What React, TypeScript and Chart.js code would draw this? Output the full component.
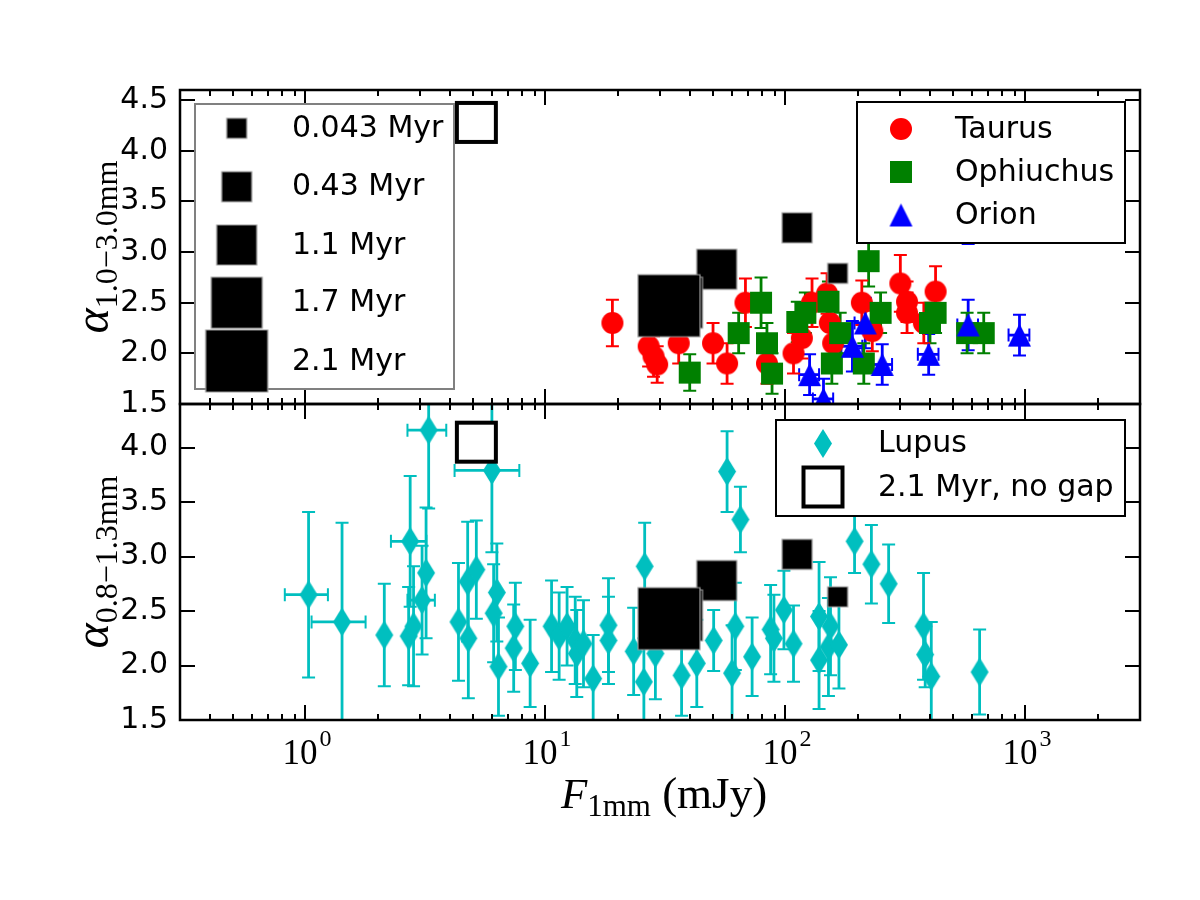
import React, { useEffect, useRef } from 'react';
import { Chart, registerables } from 'chart.js';

Chart.register(...registerables);

// ---- Taurus (top panel) ----
const taurusFlux = [19.0, 26.9, 28.2, 29.2, 35.9, 49.9, 57.1, 68.1, 83.7, 108, 117, 129, 149, 153, 158, 208, 230, 301, 321, 321, 377, 422];
const taurusAlpha = [2.30, 2.07, 1.97, 1.89, 2.10, 2.10, 1.90, 2.50, 1.90, 2.00, 2.15, 2.50, 2.59, 2.30, 2.10, 2.50, 2.22, 2.69, 2.51, 2.40, 2.30, 2.61];
const taurusAlphaErr = [0.23, 0.2, 0.2, 0.18, 0.2, 0.2, 0.2, 0.24, 0.2, 0.2, 0.2, 0.24, 0.2, 0.2, 0.2, 0.22, 0.2, 0.28, 0.2, 0.2, 0.2, 0.25];

// ---- Ophiuchus (top panel) ----
const ophFlux = [39.9, 63.8, 79.1, 83.7, 87.9, 112, 121, 151, 156, 169, 212, 222, 249, 400, 422, 571, 670];
const ophAlpha = [1.81, 2.20, 2.50, 2.10, 1.80, 2.31, 2.40, 2.51, 1.90, 2.20, 1.90, 2.91, 2.40, 2.30, 2.40, 2.20, 2.20];
const ophAlphaErr = [0.18, 0.2, 0.25, 0.2, 0.2, 0.2, 0.2, 0.2, 0.2, 0.2, 0.2, 0.25, 0.2, 0.2, 0.2, 0.2, 0.2];

// ---- Orion (top panel) ----
const orionFlux = [126, 144, 190, 215, 253, 395, 577, 577, 944];
const orionAlpha = [1.79, 1.55, 2.07, 2.30, 1.89, 1.99, 2.28, 3.38, 2.18];
const orionAlphaErr = [0.2, 0.2, 0.25, 0.25, 0.2, 0.2, 0.25, 0.30, 0.2];
const orionFluxErr = [12, 14, 19, 21, 25, 39, 57, 57, 94];

// ---- Lupus (bottom panel) ----
const lupusFlux = [1.03, 1.42, 2.13, 2.73, 2.69, 2.82, 3.06, 3.18, 3.26, 4.34, 4.74, 4.77, 5.15, 5.98, 6.27, 6.08, 6.37, 7.49, 7.37, 8.63, 10.6, 11.4, 12.3, 13.3, 13.5, 14.4, 15.8, 18.3, 18.3, 23.3, 25.9, 25.7, 28.7, 36.9, 42.7, 50.2, 57.1, 59.9, 61.8, 64.9, 72.6, 86.7, 89.5, 98.5, 108, 138, 138, 151, 154, 167, 194, 228, 269, 376, 382, 405, 644];
const lupusAlpha = [2.65, 2.40, 2.28, 3.14, 2.27, 2.36, 2.60, 2.85, 4.16, 2.40, 2.77, 2.25, 2.88, 3.79, 2.67, 2.48, 1.99, 2.36, 2.16, 2.02, 2.36, 2.27, 2.36, 2.23, 2.11, 2.20, 1.88, 2.37, 2.23, 2.13, 2.91, 1.85, 2.11, 1.91, 2.02, 2.23, 3.78, 1.93, 2.36, 3.34, 2.08, 2.33, 2.25, 2.51, 2.20, 2.45, 2.05, 2.17, 2.36, 2.19, 3.14, 2.93, 2.75, 2.36, 2.10, 1.90, 1.94];
const lupusAlphaErr = [0.76, 0.91, 0.47, 0.6, 0.45, 0.55, 0.5, 0.6, 0.72, 0.54, 0.55, 0.55, 0.45, 0.75, 0.45, 0.45, 0.45, 0.4, 0.4, 0.4, 0.42, 0.4, 0.36, 0.4, 0.4, 0.4, 0.4, 0.43, 0.4, 0.4, 0.4, 0.4, 0.42, 0.37, 0.4, 0.28, 0.37, 0.44, 0.4, 0.3, 0.36, 0.41, 0.4, 0.36, 0.35, 0.5, 0.45, 0.45, 0.45, 0.4, 0.29, 0.36, 0.36, 0.49, 0.3, 0.5, 0.39];
const lupusFluxErr = [0.21, 0.36, 0, 0.46, 0, 0, 0.4, 0, 0.6, 0, 0, 0, 0, 1.8, 0, 0, 0, 0, 0, 0, 0, 0, 0, 0, 0, 0, 0, 0, 0, 0, 0, 0, 0, 0, 0, 0, 0, 0, 0, 0, 0, 0, 0, 0, 0, 0, 0, 0, 0, 0, 0, 0, 0, 0, 0, 0, 0];

// ---- Disc models with a gap: age labels and positions in both panels ----
const modelAges = ['0.043 Myr', '0.43 Myr', '1.1 Myr', '1.7 Myr', '2.1 Myr'];
const modelFlux = [165, 111.8, 51.7, 35.3, 32.7];
const modelAlphaTop = [2.79, 3.24, 2.83, 2.50, 2.47];
const modelAlphaBottom = [2.63, 3.02, 2.78, 2.46, 2.43];

// ---- Model without a gap ----
const noGapLabel = '2.1 Myr, no gap';
const noGapFlux = [5.15];
const noGapAlphaTop = [4.28];
const noGapAlphaBottom = [4.05];

// ---- axes ----
const xRange = [0.3, 3000];
const topRange = [1.5, 4.6];
const bottomRange = [1.5, 4.4];
const topTicks = [1.5, 2.0, 2.5, 3.0, 3.5, 4.0, 4.5];
const bottomTicks = [1.5, 2.0, 2.5, 3.0, 3.5, 4.0];
const xMajorTicks = [1, 10, 100, 1000];
const xTickExponents = ['0', '1', '2', '3'];

// marker pixel sizes for the model squares (smallest age first)
const MODEL_SIZES = [20, 30, 40, 51, 62];

const RED = '#ff0000';
const GREEN = '#008000';
const BLUE = '#0000ff';
const CYAN = '#00bfbf';

type Shape = 'circle' | 'square' | 'triangle' | 'diamond';

function marker(shape: Shape, w: number, h: number, fill: string | null, stroke: string | null, lw: number) {
  const pad = Math.ceil(lw / 2) + 1;
  const c = document.createElement('canvas');
  c.width = Math.round(w + 2 * pad);
  c.height = Math.round(h + 2 * pad);
  const g = c.getContext('2d')!;
  const cx = c.width / 2;
  const cy = c.height / 2;
  g.beginPath();
  if (shape === 'circle') g.ellipse(cx, cy, w / 2, h / 2, 0, 0, Math.PI * 2);
  else if (shape === 'square') g.rect(cx - w / 2, cy - h / 2, w, h);
  else if (shape === 'triangle') {
    g.moveTo(cx, cy - h / 2);
    g.lineTo(cx + w / 2, cy + h / 2);
    g.lineTo(cx - w / 2, cy + h / 2);
    g.closePath();
  } else {
    g.moveTo(cx, cy - h / 2);
    g.lineTo(cx + w / 2, cy);
    g.lineTo(cx, cy + h / 2);
    g.lineTo(cx - w / 2, cy);
    g.closePath();
  }
  if (fill) {
    g.fillStyle = fill;
    g.fill();
  }
  if (stroke && lw > 0) {
    g.lineWidth = lw;
    g.strokeStyle = stroke;
    g.stroke();
  }
  return c;
}

function pts(xs: number[], ys: number[]) {
  return xs.map((x, i) => ({ x, y: ys[i] }));
}

type Piece = { t: string; font: string; dy?: number };

function drawPieces(ctx: CanvasRenderingContext2D, pieces: Piece[], x: number, y: number, align: 'center' | 'left') {
  ctx.textBaseline = 'alphabetic';
  ctx.textAlign = 'left';
  let total = 0;
  const widths = pieces.map((p) => {
    ctx.font = p.font;
    const w = ctx.measureText(p.t).width;
    total += w;
    return w;
  });
  let cx = align === 'center' ? x - total / 2 : x;
  pieces.forEach((p, i) => {
    ctx.font = p.font;
    ctx.fillText(p.t, cx, y + (p.dy || 0));
    cx += widths[i];
  });
}

const SANS = '"DejaVu Sans", sans-serif';
const SERIF = '"Liberation Serif", "DejaVu Serif", serif';
const TICK_FONT = 30;

export default function App() {
  const ref = useRef<HTMLCanvasElement | null>(null);

  useEffect(() => {
    const canvas = ref.current!;
    const circle = marker('circle', 22, 22, RED, null, 0);
    const square = marker('square', 22, 22, GREEN, null, 0);
    const triangle = marker('triangle', 23, 23, BLUE, null, 0);
    const diamond = marker('diamond', 18, 29, CYAN, null, 0);
    const modelMarks = MODEL_SIZES.map((s) => marker('square', s, s, '#000', '#9a9a9a', 1.2));
    const openSquare = marker('square', 39, 39, '#fff', '#000', 4);

    const errorBars = {
      id: 'errorBars',
      beforeDatasetsDraw(chart: any) {
        const ctx: CanvasRenderingContext2D = chart.ctx;
        chart.data.datasets.forEach((ds: any) => {
          if (!ds.yErr && !ds.xErr) return;
          const xs = chart.scales[ds.xAxisID];
          const ys = chart.scales[ds.yAxisID];
          ctx.save();
          ctx.beginPath();
          ctx.rect(xs.left, ys.top, xs.right - xs.left, ys.bottom - ys.top);
          ctx.clip();
          ctx.strokeStyle = ds.errColor;
          ds.data.forEach((p: any, j: number) => {
            const px = xs.getPixelForValue(p.x);
            const py = ys.getPixelForValue(p.y);
            const ey = ds.yErr ? ds.yErr[j] : 0;
            const ex = ds.xErr ? ds.xErr[j] : 0;
            const cap = 6.5;
            if (ey) {
              const y0 = ys.getPixelForValue(p.y - ey);
              const y1 = ys.getPixelForValue(p.y + ey);
              ctx.lineWidth = 2.8;
              ctx.beginPath();
              ctx.moveTo(px, y0);
              ctx.lineTo(px, y1);
              ctx.stroke();
              ctx.lineWidth = 2;
              ctx.beginPath();
              ctx.moveTo(px - cap, y0);
              ctx.lineTo(px + cap, y0);
              ctx.moveTo(px - cap, y1);
              ctx.lineTo(px + cap, y1);
              ctx.stroke();
            }
            if (ex) {
              const x0 = xs.getPixelForValue(p.x - ex);
              const x1 = xs.getPixelForValue(p.x + ex);
              ctx.lineWidth = 2.8;
              ctx.beginPath();
              ctx.moveTo(x0, py);
              ctx.lineTo(x1, py);
              ctx.stroke();
              ctx.lineWidth = 2;
              ctx.beginPath();
              ctx.moveTo(x0, py - cap);
              ctx.lineTo(x0, py + cap);
              ctx.moveTo(x1, py - cap);
              ctx.lineTo(x1, py + cap);
              ctx.stroke();
            }
          });
          ctx.restore();
        });
      },
    };

    const frame = {
      id: 'frame',
      afterDatasetsDraw(chart: any) {
        const ctx: CanvasRenderingContext2D = chart.ctx;
        const xs = chart.scales.x;
        const panels = [chart.scales.yTop, chart.scales.yBottom];
        const ticksY = [topTicks, bottomTicks];
        ctx.save();
        ctx.strokeStyle = '#000';
        // minor and major x ticks on top and bottom of each panel
        const minor: number[] = [];
        for (let d = -1; d <= 3; d++) {
          for (let m = 2; m <= 9; m++) {
            const v = m * Math.pow(10, d);
            if (v > xRange[0] && v < xRange[1]) minor.push(v);
          }
        }
        panels.forEach((ys: any, k: number) => {
          ctx.lineWidth = 2;
          ctx.beginPath();
          xMajorTicks.forEach((v) => {
            const px = Math.round(xs.getPixelForValue(v));
            ctx.moveTo(px, ys.top);
            ctx.lineTo(px, ys.top + 15);
            ctx.moveTo(px, ys.bottom);
            ctx.lineTo(px, ys.bottom - 15);
          });
          minor.forEach((v) => {
            const px = Math.round(xs.getPixelForValue(v));
            ctx.moveTo(px, ys.top);
            ctx.lineTo(px, ys.top + 6);
            ctx.moveTo(px, ys.bottom);
            ctx.lineTo(px, ys.bottom - 6);
          });
          ticksY[k].forEach((v) => {
            const py = Math.round(ys.getPixelForValue(v));
            ctx.moveTo(xs.left, py);
            ctx.lineTo(xs.left + 15, py);
            ctx.moveTo(xs.right, py);
            ctx.lineTo(xs.right - 15, py);
          });
          ctx.stroke();
          ctx.lineWidth = 2.5;
          ctx.strokeRect(xs.left, ys.top, xs.right - xs.left, ys.bottom - ys.top);
        });

        // x tick labels: powers of ten
        ctx.fillStyle = '#000';
        xMajorTicks.forEach((v, i) => {
          const px = xs.getPixelForValue(v);
          ctx.font = `35px ${SERIF}`;
          ctx.textAlign = 'right';
          ctx.textBaseline = 'alphabetic';
          ctx.fillText('10', px + 12, 764);
          ctx.font = `24px ${SERIF}`;
          ctx.textAlign = 'left';
          ctx.fillText(xTickExponents[i], px + 14, 746);
        });

        // axis titles
        const xMid = (xs.left + xs.right) / 2;
        drawPieces(ctx, [
          { t: 'F', font: `italic 43px ${SERIF}` },
          { t: '1mm', font: `31px ${SERIF}`, dy: 8 },
          { t: ' (mJy)', font: `45px ${SERIF}` },
        ], xMid + 4, 808, 'center');

        const titles = [
          { sub: '1.0\u22123.0mm', ys: panels[0] },
          { sub: '0.8\u22121.3mm', ys: panels[1] },
        ];
        titles.forEach(({ sub, ys }) => {
          ctx.save();
          ctx.translate(108, (ys.top + ys.bottom) / 2);
          ctx.rotate(-Math.PI / 2);
          drawPieces(ctx, [
            { t: '\u03b1', font: `italic 48px ${SERIF}` },
            { t: sub, font: `32px ${SERIF}`, dy: 9 },
          ], 0, 0, 'center');
          ctx.restore();
        });

        // legend: model ages
        ctx.fillStyle = '#fff';
        ctx.fillRect(195, 104, 259, 285);
        ctx.strokeStyle = '#808080';
        ctx.lineWidth = 2;
        ctx.strokeRect(195, 104, 259, 285);
        const rows = [128.3, 186.7, 245, 302.7, 361];
        ctx.font = `30px ${SANS}`;
        ctx.textAlign = 'left';
        ctx.textBaseline = 'middle';
        modelAges.forEach((lab, i) => {
          const m = modelMarks[i];
          ctx.drawImage(m, 236.7 - m.width / 2, rows[i] - m.height / 2);
          ctx.fillStyle = '#000';
          ctx.fillText(lab, 292, rows[i] + 1);
        });

        // legend: star-forming regions
        ctx.fillStyle = '#fff';
        ctx.fillRect(857, 102, 268, 141);
        ctx.strokeStyle = '#000';
        ctx.lineWidth = 2;
        ctx.strokeRect(857, 102, 268, 141);
        const reg = [
          { m: circle, t: 'Taurus', y: 129 },
          { m: square, t: 'Ophiuchus', y: 172 },
          { m: triangle, t: 'Orion', y: 215 },
        ];
        reg.forEach((r) => {
          ctx.drawImage(r.m, 901 - r.m.width / 2, r.y - r.m.height / 2);
          ctx.fillStyle = '#000';
          ctx.fillText(r.t, 955, r.y + 1);
        });

        // legend: Lupus and the model without a gap
        ctx.fillStyle = '#fff';
        ctx.fillRect(776, 420, 349, 96);
        ctx.strokeStyle = '#000';
        ctx.strokeRect(776, 420, 349, 96);
        ctx.drawImage(diamond, 823 - diamond.width / 2, 443.5 - diamond.height / 2);
        ctx.drawImage(openSquare, 823 - openSquare.width / 2, 487 - openSquare.height / 2);
        ctx.fillStyle = '#000';
        ctx.fillText('Lupus', 878, 444);
        ctx.fillText(noGapLabel, 878, 488);
        ctx.restore();
      },
    };

    const common = { showLine: false, clip: 0, pointRadius: 11, pointHoverRadius: 11, xAxisID: 'x' };
    const yTicks = (list: number[]) => ({
      afterBuildTicks: (s: any) => { s.ticks = list.map((value) => ({ value })); },
      ticks: {
        autoSkip: false,
        padding: 12,
        color: '#000',
        font: { family: 'DejaVu Sans', size: TICK_FONT },
        callback: (v: any) => Number(v).toFixed(1),
      },
    });

    const chart = new Chart(canvas, {
      type: 'scatter',
      data: {
        datasets: [
          { ...common, label: noGapLabel, yAxisID: 'yTop', data: pts(noGapFlux, noGapAlphaTop), pointStyle: openSquare, order: 0 },
          { ...common, label: noGapLabel, yAxisID: 'yBottom', data: pts(noGapFlux, noGapAlphaBottom), pointStyle: openSquare, order: 0 },
          { ...common, label: 'models', yAxisID: 'yTop', data: pts(modelFlux, modelAlphaTop), pointStyle: modelMarks, order: 1 },
          { ...common, label: 'models', yAxisID: 'yBottom', data: pts(modelFlux, modelAlphaBottom), pointStyle: modelMarks, order: 1 },
          { ...common, label: 'Orion', yAxisID: 'yTop', data: pts(orionFlux, orionAlpha), pointStyle: triangle, yErr: orionAlphaErr, xErr: orionFluxErr, errColor: BLUE, order: 2 },
          { ...common, label: 'Ophiuchus', yAxisID: 'yTop', data: pts(ophFlux, ophAlpha), pointStyle: square, yErr: ophAlphaErr, errColor: GREEN, order: 3 },
          { ...common, label: 'Taurus', yAxisID: 'yTop', data: pts(taurusFlux, taurusAlpha), pointStyle: circle, yErr: taurusAlphaErr, errColor: RED, order: 4 },
          { ...common, label: 'Lupus', yAxisID: 'yBottom', data: pts(lupusFlux, lupusAlpha), pointStyle: diamond, yErr: lupusAlphaErr, xErr: lupusFluxErr, errColor: CYAN, order: 5 },
        ] as any,
      },
      options: {
        animation: false,
        responsive: false,
        maintainAspectRatio: false,
        events: [],
        layout: { padding: { left: 0, right: 60, top: 90, bottom: 0 } },
        plugins: { legend: { display: false }, tooltip: { enabled: false } },
        scales: {
          x: {
            type: 'logarithmic',
            position: 'bottom',
            min: xRange[0],
            max: xRange[1],
            grid: { display: false, drawTicks: false },
            border: { display: false },
            ticks: { display: false },
            afterFit: (s: any) => { s.height = 180; },
          },
          // stacked left axes: the later entry is laid out on top
          yBottom: {
            type: 'linear',
            position: 'left',
            stack: 'panels',
            stackWeight: 316,
            min: bottomRange[0],
            max: bottomRange[1],
            grid: { display: false, drawTicks: false },
            border: { display: false },
            ...yTicks(bottomTicks),
            afterFit: (s: any) => { s.width = 180; },
          },
          yTop: {
            type: 'linear',
            position: 'left',
            stack: 'panels',
            stackWeight: 314,
            min: topRange[0],
            max: topRange[1],
            grid: { display: false, drawTicks: false },
            border: { display: false },
            ...yTicks(topTicks),
            afterFit: (s: any) => { s.width = 180; },
          },
        },
      } as any,
      plugins: [errorBars, frame],
    });
    return () => chart.destroy();
  }, []);

  return (
    <div style={{ position: 'absolute', left: 0, top: 0, width: 1200, height: 900, background: '#fff' }}>
      <canvas ref={ref} width={1200} height={900} style={{ width: 1200, height: 900, display: 'block' }} />
    </div>
  );
}
